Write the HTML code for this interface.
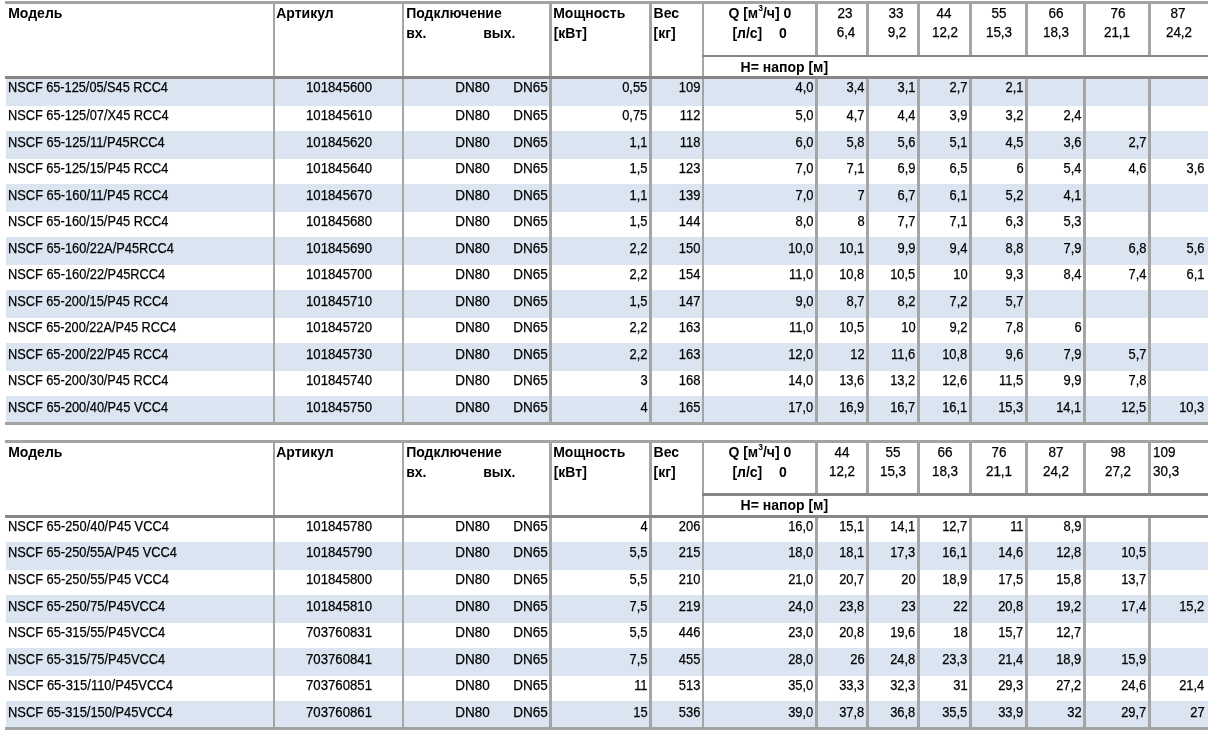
<!DOCTYPE html>
<html lang="ru"><head><meta charset="utf-8"><title>NSCF</title><style>
html,body{margin:0;padding:0;background:#fff}
body{width:1214px;height:742px;position:relative;overflow:hidden}
.b{position:absolute}
span{position:absolute;white-space:nowrap;font-family:"Liberation Sans",Arial,sans-serif;color:#000;line-height:16px;transform-origin:0 0;-webkit-text-stroke:0.25px #000}
.d{font-size:14px;transform:scaleX(0.921)}
.d.r{transform-origin:100% 0}
.d.c{width:200px;text-align:center;transform-origin:50% 0}
.d.m{transform:scaleX(0.906)}
.d.a{transform:scaleX(0.942)}
.d.n{transform:scaleX(0.964)}
.d.hn{transform:scaleX(0.96)}
.h{font-size:14px;font-weight:bold;-webkit-text-stroke:0}
sup{font-size:8.5px;vertical-align:baseline;position:relative;top:-7.5px;line-height:0}
</style></head>
<body>
<div class="b" style="left:6px;top:79px;width:1202px;height:27px;background:#dbe5f1"></div>
<div class="b" style="left:6px;top:131px;width:1202px;height:28px;background:#dbe5f1"></div>
<div class="b" style="left:6px;top:184px;width:1202px;height:28px;background:#dbe5f1"></div>
<div class="b" style="left:6px;top:237px;width:1202px;height:28px;background:#dbe5f1"></div>
<div class="b" style="left:6px;top:290px;width:1202px;height:28px;background:#dbe5f1"></div>
<div class="b" style="left:6px;top:343px;width:1202px;height:28px;background:#dbe5f1"></div>
<div class="b" style="left:6px;top:396px;width:1202px;height:26px;background:#dbe5f1"></div>
<div class="b" style="left:5px;top:1px;width:1203px;height:3px;background:#a3a3a3"></div>
<div class="b" style="left:273px;top:4px;width:2px;height:72px;background:#a5a5a5"></div>
<div class="b" style="left:273px;top:79px;width:2px;height:343px;background:#a5a5a5"></div>
<div class="b" style="left:402px;top:4px;width:2px;height:72px;background:#a5a5a5"></div>
<div class="b" style="left:402px;top:79px;width:2px;height:343px;background:#a5a5a5"></div>
<div class="b" style="left:549px;top:4px;width:3px;height:72px;background:#a5a5a5"></div>
<div class="b" style="left:549px;top:79px;width:3px;height:343px;background:#a5a5a5"></div>
<div class="b" style="left:649px;top:4px;width:3px;height:72px;background:#a5a5a5"></div>
<div class="b" style="left:649px;top:79px;width:3px;height:343px;background:#a5a5a5"></div>
<div class="b" style="left:702px;top:4px;width:2px;height:72px;background:#a5a5a5"></div>
<div class="b" style="left:702px;top:79px;width:2px;height:343px;background:#a5a5a5"></div>
<div class="b" style="left:815px;top:4px;width:3px;height:51px;background:#a5a5a5"></div>
<div class="b" style="left:815px;top:79px;width:3px;height:343px;background:#a5a5a5"></div>
<div class="b" style="left:866px;top:4px;width:3px;height:51px;background:#a5a5a5"></div>
<div class="b" style="left:866px;top:79px;width:3px;height:343px;background:#a5a5a5"></div>
<div class="b" style="left:917px;top:4px;width:3px;height:51px;background:#a5a5a5"></div>
<div class="b" style="left:917px;top:79px;width:3px;height:343px;background:#a5a5a5"></div>
<div class="b" style="left:969px;top:4px;width:3px;height:51px;background:#a5a5a5"></div>
<div class="b" style="left:969px;top:79px;width:3px;height:343px;background:#a5a5a5"></div>
<div class="b" style="left:1025px;top:4px;width:3px;height:51px;background:#a5a5a5"></div>
<div class="b" style="left:1025px;top:79px;width:3px;height:343px;background:#a5a5a5"></div>
<div class="b" style="left:1083px;top:4px;width:3px;height:51px;background:#a5a5a5"></div>
<div class="b" style="left:1083px;top:79px;width:3px;height:343px;background:#a5a5a5"></div>
<div class="b" style="left:1148px;top:4px;width:3px;height:51px;background:#a5a5a5"></div>
<div class="b" style="left:1148px;top:79px;width:3px;height:343px;background:#a5a5a5"></div>
<div class="b" style="left:702px;top:55px;width:506px;height:2px;background:#868686"></div>
<div class="b" style="left:5px;top:76px;width:1203px;height:3px;background:#868686"></div>
<div class="b" style="left:5px;top:422px;width:1203px;height:3px;background:#a3a3a3"></div>
<span class="h" style="left:8.2px;top:5.2px">Модель</span>
<span class="h" style="left:276.2px;top:5.2px">Артикул</span>
<span class="h" style="left:406.2px;top:5.2px">Подключение</span>
<span class="h" style="left:406.2px;top:25.2px">вх.</span>
<span class="h" style="left:483.2px;top:25.2px">вых.</span>
<span class="h" style="left:553.2px;top:5.2px">Мощность</span>
<span class="h" style="left:553.7px;top:25.2px">[кВт]</span>
<span class="h" style="left:653.6px;top:5.2px">Вес</span>
<span class="h" style="left:653.6px;top:25.2px">[кг]</span>
<span class="h" style="left:728.4px;top:5.2px">Q [м<sup>3</sup>/ч] 0</span>
<span class="h" style="left:732.4px;top:25.2px">[л/с]</span>
<span class="h" style="left:779.1px;top:25.2px">0</span>
<span class="h" style="left:740.6px;top:59.2px">H= напор [м]</span>
<span class="d hn c" style="left:744.7px;top:5px">23</span>
<span class="d hn c" style="left:746.35px;top:24px">6,4</span>
<span class="d hn c" style="left:795.7px;top:5px">33</span>
<span class="d hn c" style="left:797.35px;top:24px">9,2</span>
<span class="d hn c" style="left:844.35px;top:5px">44</span>
<span class="d hn c" style="left:844.8px;top:24px">12,2</span>
<span class="d hn c" style="left:898.85px;top:5px">55</span>
<span class="d hn c" style="left:899.1px;top:24px">15,3</span>
<span class="d hn c" style="left:955.8499999999999px;top:5px">66</span>
<span class="d hn c" style="left:956px;top:24px">18,3</span>
<span class="d hn c" style="left:1017.5999999999999px;top:5px">76</span>
<span class="d hn c" style="left:1016.8px;top:24px">21,1</span>
<span class="d hn c" style="left:1078.3px;top:5px">87</span>
<span class="d hn c" style="left:1078.5px;top:24px">24,2</span>
<span class="d m" style="left:8.2px;top:79px;transform:scaleX(0.9094)">NSCF 65-125/05/S45 RCC4</span>
<span class="d a c" style="left:239.3px;top:79px">101845600</span>
<span class="d n r" style="right:724.2px;top:79px">DN80</span>
<span class="d n r" style="right:666.3px;top:79px">DN65</span>
<span class="d r" style="right:566.7px;top:79px">0,55</span>
<span class="d r" style="right:513.7px;top:79px">109</span>
<span class="d r" style="right:400.6px;top:79px">4,0</span>
<span class="d r" style="right:349.6px;top:79px">3,4</span>
<span class="d r" style="right:298.6px;top:79px">3,1</span>
<span class="d r" style="right:246.6px;top:79px">2,7</span>
<span class="d r" style="right:190.6px;top:79px">2,1</span>
<span class="d m" style="left:8.2px;top:107px;transform:scaleX(0.9134)">NSCF 65-125/07/X45 RCC4</span>
<span class="d a c" style="left:239.3px;top:107px">101845610</span>
<span class="d n r" style="right:724.2px;top:107px">DN80</span>
<span class="d n r" style="right:666.3px;top:107px">DN65</span>
<span class="d r" style="right:566.7px;top:107px">0,75</span>
<span class="d r" style="right:513.7px;top:107px">112</span>
<span class="d r" style="right:400.6px;top:107px">5,0</span>
<span class="d r" style="right:349.6px;top:107px">4,7</span>
<span class="d r" style="right:298.6px;top:107px">4,4</span>
<span class="d r" style="right:246.6px;top:107px">3,9</span>
<span class="d r" style="right:190.6px;top:107px">3,2</span>
<span class="d r" style="right:132.6px;top:107px">2,4</span>
<span class="d m" style="left:8.2px;top:134px;transform:scaleX(0.9166)">NSCF 65-125/11/P45RCC4</span>
<span class="d a c" style="left:239.3px;top:134px">101845620</span>
<span class="d n r" style="right:724.2px;top:134px">DN80</span>
<span class="d n r" style="right:666.3px;top:134px">DN65</span>
<span class="d r" style="right:566.7px;top:134px">1,1</span>
<span class="d r" style="right:513.7px;top:134px">118</span>
<span class="d r" style="right:400.6px;top:134px">6,0</span>
<span class="d r" style="right:349.6px;top:134px">5,8</span>
<span class="d r" style="right:298.6px;top:134px">5,6</span>
<span class="d r" style="right:246.6px;top:134px">5,1</span>
<span class="d r" style="right:190.6px;top:134px">4,5</span>
<span class="d r" style="right:132.6px;top:134px">3,6</span>
<span class="d r" style="right:67.6px;top:134px">2,7</span>
<span class="d m" style="left:8.2px;top:160px;transform:scaleX(0.9123)">NSCF 65-125/15/P45 RCC4</span>
<span class="d a c" style="left:239.3px;top:160px">101845640</span>
<span class="d n r" style="right:724.2px;top:160px">DN80</span>
<span class="d n r" style="right:666.3px;top:160px">DN65</span>
<span class="d r" style="right:566.7px;top:160px">1,5</span>
<span class="d r" style="right:513.7px;top:160px">123</span>
<span class="d r" style="right:400.6px;top:160px">7,0</span>
<span class="d r" style="right:349.6px;top:160px">7,1</span>
<span class="d r" style="right:298.6px;top:160px">6,9</span>
<span class="d r" style="right:246.6px;top:160px">6,5</span>
<span class="d r" style="right:190.6px;top:160px">6</span>
<span class="d r" style="right:132.6px;top:160px">5,4</span>
<span class="d r" style="right:67.6px;top:160px">4,6</span>
<span class="d r" style="right:9.5px;top:160px">3,6</span>
<span class="d m" style="left:8.2px;top:187px;transform:scaleX(0.9181)">NSCF 65-160/11/P45 RCC4</span>
<span class="d a c" style="left:239.3px;top:187px">101845670</span>
<span class="d n r" style="right:724.2px;top:187px">DN80</span>
<span class="d n r" style="right:666.3px;top:187px">DN65</span>
<span class="d r" style="right:566.7px;top:187px">1,1</span>
<span class="d r" style="right:513.7px;top:187px">139</span>
<span class="d r" style="right:400.6px;top:187px">7,0</span>
<span class="d r" style="right:349.6px;top:187px">7</span>
<span class="d r" style="right:298.6px;top:187px">6,7</span>
<span class="d r" style="right:246.6px;top:187px">6,1</span>
<span class="d r" style="right:190.6px;top:187px">5,2</span>
<span class="d r" style="right:132.6px;top:187px">4,1</span>
<span class="d m" style="left:8.2px;top:213px;transform:scaleX(0.9123)">NSCF 65-160/15/P45 RCC4</span>
<span class="d a c" style="left:239.3px;top:213px">101845680</span>
<span class="d n r" style="right:724.2px;top:213px">DN80</span>
<span class="d n r" style="right:666.3px;top:213px">DN65</span>
<span class="d r" style="right:566.7px;top:213px">1,5</span>
<span class="d r" style="right:513.7px;top:213px">144</span>
<span class="d r" style="right:400.6px;top:213px">8,0</span>
<span class="d r" style="right:349.6px;top:213px">8</span>
<span class="d r" style="right:298.6px;top:213px">7,7</span>
<span class="d r" style="right:246.6px;top:213px">7,1</span>
<span class="d r" style="right:190.6px;top:213px">6,3</span>
<span class="d r" style="right:132.6px;top:213px">5,3</span>
<span class="d m" style="left:8.2px;top:240px;transform:scaleX(0.9149)">NSCF 65-160/22A/P45RCC4</span>
<span class="d a c" style="left:239.3px;top:240px">101845690</span>
<span class="d n r" style="right:724.2px;top:240px">DN80</span>
<span class="d n r" style="right:666.3px;top:240px">DN65</span>
<span class="d r" style="right:566.7px;top:240px">2,2</span>
<span class="d r" style="right:513.7px;top:240px">150</span>
<span class="d r" style="right:400.6px;top:240px">10,0</span>
<span class="d r" style="right:349.6px;top:240px">10,1</span>
<span class="d r" style="right:298.6px;top:240px">9,9</span>
<span class="d r" style="right:246.6px;top:240px">9,4</span>
<span class="d r" style="right:190.6px;top:240px">8,8</span>
<span class="d r" style="right:132.6px;top:240px">7,9</span>
<span class="d r" style="right:67.6px;top:240px">6,8</span>
<span class="d r" style="right:9.5px;top:240px">5,6</span>
<span class="d m" style="left:8.2px;top:266px;transform:scaleX(0.9142)">NSCF 65-160/22/P45RCC4</span>
<span class="d a c" style="left:239.3px;top:266px">101845700</span>
<span class="d n r" style="right:724.2px;top:266px">DN80</span>
<span class="d n r" style="right:666.3px;top:266px">DN65</span>
<span class="d r" style="right:566.7px;top:266px">2,2</span>
<span class="d r" style="right:513.7px;top:266px">154</span>
<span class="d r" style="right:400.6px;top:266px">11,0</span>
<span class="d r" style="right:349.6px;top:266px">10,8</span>
<span class="d r" style="right:298.6px;top:266px">10,5</span>
<span class="d r" style="right:246.6px;top:266px">10</span>
<span class="d r" style="right:190.6px;top:266px">9,3</span>
<span class="d r" style="right:132.6px;top:266px">8,4</span>
<span class="d r" style="right:67.6px;top:266px">7,4</span>
<span class="d r" style="right:9.5px;top:266px">6,1</span>
<span class="d m" style="left:8.2px;top:293px;transform:scaleX(0.9112)">NSCF 65-200/15/P45 RCC4</span>
<span class="d a c" style="left:239.3px;top:293px">101845710</span>
<span class="d n r" style="right:724.2px;top:293px">DN80</span>
<span class="d n r" style="right:666.3px;top:293px">DN65</span>
<span class="d r" style="right:566.7px;top:293px">1,5</span>
<span class="d r" style="right:513.7px;top:293px">147</span>
<span class="d r" style="right:400.6px;top:293px">9,0</span>
<span class="d r" style="right:349.6px;top:293px">8,7</span>
<span class="d r" style="right:298.6px;top:293px">8,2</span>
<span class="d r" style="right:246.6px;top:293px">7,2</span>
<span class="d r" style="right:190.6px;top:293px">5,7</span>
<span class="d m" style="left:8.2px;top:319px;transform:scaleX(0.9082)">NSCF 65-200/22A/P45 RCC4</span>
<span class="d a c" style="left:239.3px;top:319px">101845720</span>
<span class="d n r" style="right:724.2px;top:319px">DN80</span>
<span class="d n r" style="right:666.3px;top:319px">DN65</span>
<span class="d r" style="right:566.7px;top:319px">2,2</span>
<span class="d r" style="right:513.7px;top:319px">163</span>
<span class="d r" style="right:400.6px;top:319px">11,0</span>
<span class="d r" style="right:349.6px;top:319px">10,5</span>
<span class="d r" style="right:298.6px;top:319px">10</span>
<span class="d r" style="right:246.6px;top:319px">9,2</span>
<span class="d r" style="right:190.6px;top:319px">7,8</span>
<span class="d r" style="right:132.6px;top:319px">6</span>
<span class="d m" style="left:8.2px;top:346px;transform:scaleX(0.9112)">NSCF 65-200/22/P45 RCC4</span>
<span class="d a c" style="left:239.3px;top:346px">101845730</span>
<span class="d n r" style="right:724.2px;top:346px">DN80</span>
<span class="d n r" style="right:666.3px;top:346px">DN65</span>
<span class="d r" style="right:566.7px;top:346px">2,2</span>
<span class="d r" style="right:513.7px;top:346px">163</span>
<span class="d r" style="right:400.6px;top:346px">12,0</span>
<span class="d r" style="right:349.6px;top:346px">12</span>
<span class="d r" style="right:298.6px;top:346px">11,6</span>
<span class="d r" style="right:246.6px;top:346px">10,8</span>
<span class="d r" style="right:190.6px;top:346px">9,6</span>
<span class="d r" style="right:132.6px;top:346px">7,9</span>
<span class="d r" style="right:67.6px;top:346px">5,7</span>
<span class="d m" style="left:8.2px;top:372px;transform:scaleX(0.9112)">NSCF 65-200/30/P45 RCC4</span>
<span class="d a c" style="left:239.3px;top:372px">101845740</span>
<span class="d n r" style="right:724.2px;top:372px">DN80</span>
<span class="d n r" style="right:666.3px;top:372px">DN65</span>
<span class="d r" style="right:566.7px;top:372px">3</span>
<span class="d r" style="right:513.7px;top:372px">168</span>
<span class="d r" style="right:400.6px;top:372px">14,0</span>
<span class="d r" style="right:349.6px;top:372px">13,6</span>
<span class="d r" style="right:298.6px;top:372px">13,2</span>
<span class="d r" style="right:246.6px;top:372px">12,6</span>
<span class="d r" style="right:190.6px;top:372px">11,5</span>
<span class="d r" style="right:132.6px;top:372px">9,9</span>
<span class="d r" style="right:67.6px;top:372px">7,8</span>
<span class="d m" style="left:8.2px;top:399px;transform:scaleX(0.9141)">NSCF 65-200/40/P45 VCC4</span>
<span class="d a c" style="left:239.3px;top:399px">101845750</span>
<span class="d n r" style="right:724.2px;top:399px">DN80</span>
<span class="d n r" style="right:666.3px;top:399px">DN65</span>
<span class="d r" style="right:566.7px;top:399px">4</span>
<span class="d r" style="right:513.7px;top:399px">165</span>
<span class="d r" style="right:400.6px;top:399px">17,0</span>
<span class="d r" style="right:349.6px;top:399px">16,9</span>
<span class="d r" style="right:298.6px;top:399px">16,7</span>
<span class="d r" style="right:246.6px;top:399px">16,1</span>
<span class="d r" style="right:190.6px;top:399px">15,3</span>
<span class="d r" style="right:132.6px;top:399px">14,1</span>
<span class="d r" style="right:67.6px;top:399px">12,5</span>
<span class="d r" style="right:9.5px;top:399px">10,3</span>
<div class="b" style="left:6px;top:542px;width:1202px;height:28px;background:#dbe5f1"></div>
<div class="b" style="left:6px;top:595px;width:1202px;height:28px;background:#dbe5f1"></div>
<div class="b" style="left:6px;top:648px;width:1202px;height:28px;background:#dbe5f1"></div>
<div class="b" style="left:6px;top:701px;width:1202px;height:26px;background:#dbe5f1"></div>
<div class="b" style="left:5px;top:440px;width:1203px;height:3px;background:#a3a3a3"></div>
<div class="b" style="left:273px;top:443px;width:2px;height:72px;background:#a5a5a5"></div>
<div class="b" style="left:273px;top:518px;width:2px;height:209px;background:#a5a5a5"></div>
<div class="b" style="left:402px;top:443px;width:2px;height:72px;background:#a5a5a5"></div>
<div class="b" style="left:402px;top:518px;width:2px;height:209px;background:#a5a5a5"></div>
<div class="b" style="left:549px;top:443px;width:3px;height:72px;background:#a5a5a5"></div>
<div class="b" style="left:549px;top:518px;width:3px;height:209px;background:#a5a5a5"></div>
<div class="b" style="left:649px;top:443px;width:3px;height:72px;background:#a5a5a5"></div>
<div class="b" style="left:649px;top:518px;width:3px;height:209px;background:#a5a5a5"></div>
<div class="b" style="left:702px;top:443px;width:2px;height:72px;background:#a5a5a5"></div>
<div class="b" style="left:702px;top:518px;width:2px;height:209px;background:#a5a5a5"></div>
<div class="b" style="left:815px;top:443px;width:3px;height:51px;background:#a5a5a5"></div>
<div class="b" style="left:815px;top:518px;width:3px;height:209px;background:#a5a5a5"></div>
<div class="b" style="left:866px;top:443px;width:3px;height:51px;background:#a5a5a5"></div>
<div class="b" style="left:866px;top:518px;width:3px;height:209px;background:#a5a5a5"></div>
<div class="b" style="left:917px;top:443px;width:3px;height:51px;background:#a5a5a5"></div>
<div class="b" style="left:917px;top:518px;width:3px;height:209px;background:#a5a5a5"></div>
<div class="b" style="left:969px;top:443px;width:3px;height:51px;background:#a5a5a5"></div>
<div class="b" style="left:969px;top:518px;width:3px;height:209px;background:#a5a5a5"></div>
<div class="b" style="left:1025px;top:443px;width:3px;height:51px;background:#a5a5a5"></div>
<div class="b" style="left:1025px;top:518px;width:3px;height:209px;background:#a5a5a5"></div>
<div class="b" style="left:1083px;top:443px;width:3px;height:51px;background:#a5a5a5"></div>
<div class="b" style="left:1083px;top:518px;width:3px;height:209px;background:#a5a5a5"></div>
<div class="b" style="left:1148px;top:443px;width:3px;height:51px;background:#a5a5a5"></div>
<div class="b" style="left:1148px;top:518px;width:3px;height:209px;background:#a5a5a5"></div>
<div class="b" style="left:702px;top:493px;width:506px;height:3px;background:#868686"></div>
<div class="b" style="left:5px;top:515px;width:1203px;height:3px;background:#868686"></div>
<div class="b" style="left:5px;top:727px;width:1203px;height:3px;background:#a3a3a3"></div>
<span class="h" style="left:8.2px;top:444.2px">Модель</span>
<span class="h" style="left:276.2px;top:444.2px">Артикул</span>
<span class="h" style="left:406.2px;top:444.2px">Подключение</span>
<span class="h" style="left:406.2px;top:464.2px">вх.</span>
<span class="h" style="left:483.2px;top:464.2px">вых.</span>
<span class="h" style="left:553.2px;top:444.2px">Мощность</span>
<span class="h" style="left:553.7px;top:464.2px">[кВт]</span>
<span class="h" style="left:653.6px;top:444.2px">Вес</span>
<span class="h" style="left:653.6px;top:464.2px">[кг]</span>
<span class="h" style="left:728.4px;top:444.2px">Q [м<sup>3</sup>/ч] 0</span>
<span class="h" style="left:732.4px;top:464.2px">[л/с]</span>
<span class="h" style="left:779.1px;top:464.2px">0</span>
<span class="h" style="left:740.6px;top:497.2px">H= напор [м]</span>
<span class="d hn c" style="left:741.8px;top:444px">44</span>
<span class="d hn c" style="left:742.4px;top:463px">12,2</span>
<span class="d hn c" style="left:792.8px;top:444px">55</span>
<span class="d hn c" style="left:793.1px;top:463px">15,3</span>
<span class="d hn c" style="left:844.7px;top:444px">66</span>
<span class="d hn c" style="left:844.6px;top:463px">18,3</span>
<span class="d hn c" style="left:899.1px;top:444px">76</span>
<span class="d hn c" style="left:898.7px;top:463px">21,1</span>
<span class="d hn c" style="left:955.75px;top:444px">87</span>
<span class="d hn c" style="left:956.05px;top:463px">24,2</span>
<span class="d hn c" style="left:1017.55px;top:444px">98</span>
<span class="d hn c" style="left:1017.5999999999999px;top:463px">27,2</span>
<span class="d hn" style="left:1153.2px;top:444px">109</span>
<span class="d hn" style="left:1153.2px;top:463px">30,3</span>
<span class="d m" style="left:8.2px;top:518px;transform:scaleX(0.9192)">NSCF 65-250/40/P45 VCC4</span>
<span class="d a c" style="left:239.3px;top:518px">101845780</span>
<span class="d n r" style="right:724.2px;top:518px">DN80</span>
<span class="d n r" style="right:666.3px;top:518px">DN65</span>
<span class="d r" style="right:566.7px;top:518px">4</span>
<span class="d r" style="right:513.7px;top:518px">206</span>
<span class="d r" style="right:400.6px;top:518px">16,0</span>
<span class="d r" style="right:349.6px;top:518px">15,1</span>
<span class="d r" style="right:298.6px;top:518px">14,1</span>
<span class="d r" style="right:246.6px;top:518px">12,7</span>
<span class="d r" style="right:190.6px;top:518px">11</span>
<span class="d r" style="right:132.6px;top:518px">8,9</span>
<span class="d m" style="left:8.2px;top:544px;transform:scaleX(0.9163)">NSCF 65-250/55A/P45 VCC4</span>
<span class="d a c" style="left:239.3px;top:544px">101845790</span>
<span class="d n r" style="right:724.2px;top:544px">DN80</span>
<span class="d n r" style="right:666.3px;top:544px">DN65</span>
<span class="d r" style="right:566.7px;top:544px">5,5</span>
<span class="d r" style="right:513.7px;top:544px">215</span>
<span class="d r" style="right:400.6px;top:544px">18,0</span>
<span class="d r" style="right:349.6px;top:544px">18,1</span>
<span class="d r" style="right:298.6px;top:544px">17,3</span>
<span class="d r" style="right:246.6px;top:544px">16,1</span>
<span class="d r" style="right:190.6px;top:544px">14,6</span>
<span class="d r" style="right:132.6px;top:544px">12,8</span>
<span class="d r" style="right:67.6px;top:544px">10,5</span>
<span class="d m" style="left:8.2px;top:571px;transform:scaleX(0.9192)">NSCF 65-250/55/P45 VCC4</span>
<span class="d a c" style="left:239.3px;top:571px">101845800</span>
<span class="d n r" style="right:724.2px;top:571px">DN80</span>
<span class="d n r" style="right:666.3px;top:571px">DN65</span>
<span class="d r" style="right:566.7px;top:571px">5,5</span>
<span class="d r" style="right:513.7px;top:571px">210</span>
<span class="d r" style="right:400.6px;top:571px">21,0</span>
<span class="d r" style="right:349.6px;top:571px">20,7</span>
<span class="d r" style="right:298.6px;top:571px">20</span>
<span class="d r" style="right:246.6px;top:571px">18,9</span>
<span class="d r" style="right:190.6px;top:571px">17,5</span>
<span class="d r" style="right:132.6px;top:571px">15,8</span>
<span class="d r" style="right:67.6px;top:571px">13,7</span>
<span class="d m" style="left:8.2px;top:598px;transform:scaleX(0.9183)">NSCF 65-250/75/P45VCC4</span>
<span class="d a c" style="left:239.3px;top:598px">101845810</span>
<span class="d n r" style="right:724.2px;top:598px">DN80</span>
<span class="d n r" style="right:666.3px;top:598px">DN65</span>
<span class="d r" style="right:566.7px;top:598px">7,5</span>
<span class="d r" style="right:513.7px;top:598px">219</span>
<span class="d r" style="right:400.6px;top:598px">24,0</span>
<span class="d r" style="right:349.6px;top:598px">23,8</span>
<span class="d r" style="right:298.6px;top:598px">23</span>
<span class="d r" style="right:246.6px;top:598px">22</span>
<span class="d r" style="right:190.6px;top:598px">20,8</span>
<span class="d r" style="right:132.6px;top:598px">19,2</span>
<span class="d r" style="right:67.6px;top:598px">17,4</span>
<span class="d r" style="right:9.5px;top:598px">15,2</span>
<span class="d m" style="left:8.2px;top:624px;transform:scaleX(0.9183)">NSCF 65-315/55/P45VCC4</span>
<span class="d a c" style="left:239.3px;top:624px">703760831</span>
<span class="d n r" style="right:724.2px;top:624px">DN80</span>
<span class="d n r" style="right:666.3px;top:624px">DN65</span>
<span class="d r" style="right:566.7px;top:624px">5,5</span>
<span class="d r" style="right:513.7px;top:624px">446</span>
<span class="d r" style="right:400.6px;top:624px">23,0</span>
<span class="d r" style="right:349.6px;top:624px">20,8</span>
<span class="d r" style="right:298.6px;top:624px">19,6</span>
<span class="d r" style="right:246.6px;top:624px">18</span>
<span class="d r" style="right:190.6px;top:624px">15,7</span>
<span class="d r" style="right:132.6px;top:624px">12,7</span>
<span class="d m" style="left:8.2px;top:651px;transform:scaleX(0.9183)">NSCF 65-315/75/P45VCC4</span>
<span class="d a c" style="left:239.3px;top:651px">703760841</span>
<span class="d n r" style="right:724.2px;top:651px">DN80</span>
<span class="d n r" style="right:666.3px;top:651px">DN65</span>
<span class="d r" style="right:566.7px;top:651px">7,5</span>
<span class="d r" style="right:513.7px;top:651px">455</span>
<span class="d r" style="right:400.6px;top:651px">28,0</span>
<span class="d r" style="right:349.6px;top:651px">26</span>
<span class="d r" style="right:298.6px;top:651px">24,8</span>
<span class="d r" style="right:246.6px;top:651px">23,3</span>
<span class="d r" style="right:190.6px;top:651px">21,4</span>
<span class="d r" style="right:132.6px;top:651px">18,9</span>
<span class="d r" style="right:67.6px;top:651px">15,9</span>
<span class="d m" style="left:8.2px;top:677px;transform:scaleX(0.9264)">NSCF 65-315/110/P45VCC4</span>
<span class="d a c" style="left:239.3px;top:677px">703760851</span>
<span class="d n r" style="right:724.2px;top:677px">DN80</span>
<span class="d n r" style="right:666.3px;top:677px">DN65</span>
<span class="d r" style="right:566.7px;top:677px">11</span>
<span class="d r" style="right:513.7px;top:677px">513</span>
<span class="d r" style="right:400.6px;top:677px">35,0</span>
<span class="d r" style="right:349.6px;top:677px">33,3</span>
<span class="d r" style="right:298.6px;top:677px">32,3</span>
<span class="d r" style="right:246.6px;top:677px">31</span>
<span class="d r" style="right:190.6px;top:677px">29,3</span>
<span class="d r" style="right:132.6px;top:677px">27,2</span>
<span class="d r" style="right:67.6px;top:677px">24,6</span>
<span class="d r" style="right:9.5px;top:677px">21,4</span>
<span class="d m" style="left:8.2px;top:704px;transform:scaleX(0.9206)">NSCF 65-315/150/P45VCC4</span>
<span class="d a c" style="left:239.3px;top:704px">703760861</span>
<span class="d n r" style="right:724.2px;top:704px">DN80</span>
<span class="d n r" style="right:666.3px;top:704px">DN65</span>
<span class="d r" style="right:566.7px;top:704px">15</span>
<span class="d r" style="right:513.7px;top:704px">536</span>
<span class="d r" style="right:400.6px;top:704px">39,0</span>
<span class="d r" style="right:349.6px;top:704px">37,8</span>
<span class="d r" style="right:298.6px;top:704px">36,8</span>
<span class="d r" style="right:246.6px;top:704px">35,5</span>
<span class="d r" style="right:190.6px;top:704px">33,9</span>
<span class="d r" style="right:132.6px;top:704px">32</span>
<span class="d r" style="right:67.6px;top:704px">29,7</span>
<span class="d r" style="right:9.5px;top:704px">27</span>
</body></html>
